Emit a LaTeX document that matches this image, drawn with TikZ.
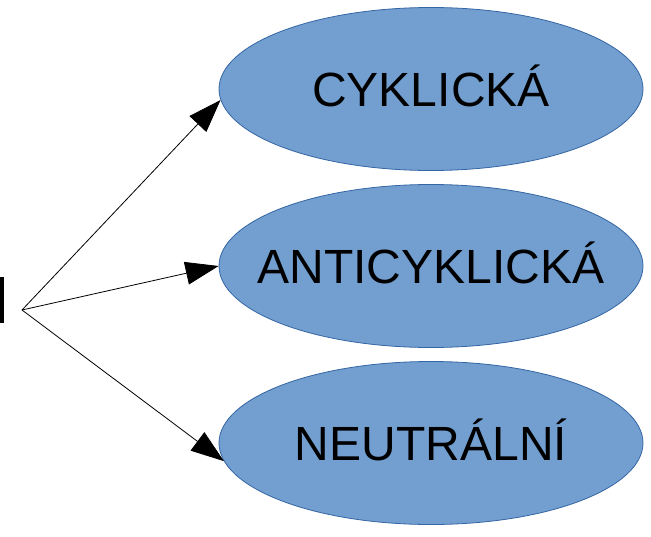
\documentclass[tikz,border=0pt]{standalone}
\usepackage{fontspec}
\setsansfont{Liberation Sans}
\usepackage{xcolor}
\definecolor{ovalFill}{HTML}{729FCF}
\definecolor{ovalBorder}{HTML}{3465A4}
\usetikzlibrary{shapes.geometric,arrows.meta}
\newcommand{\ovaltext}[1]{\makebox[0pt]{\smash{\raisebox{-.358em}{#1}}}}
\tikzset{
    oval/.style={
        ellipse,
        draw=ovalBorder,
        fill=ovalFill,
        line width=0.8pt,
        minimum width=424pt,
        minimum height=163pt,
        inner sep=0pt,
        font=\sffamily\fontsize{48}{57}\selectfont
    },
    stem/.style={
        rectangle,
        fill=black,
        inner sep=0pt,
        minimum width=4pt,
        minimum height=46pt
    },
    arrow/.style={
        -{Triangle[length=33pt,width=23pt]},
        line width=0.8pt,
        color=black
    }
}
\begin{document}
\begin{tikzpicture}[x=1pt,y=-1pt]
    \useasboundingbox (0,0) rectangle (651,536);
    \node[stem] (bar) at (2,300) {};
    \coordinate (src) at (22,310);
    \node[oval] (cyc) at (431,89) {\ovaltext{CYKLICKÁ}};
    \node[oval] (anti) at (431,266) {\ovaltext{ANTICYKLICKÁ}};
    \node[oval] (neu) at (431,443) {\ovaltext{NEUTRÁLNÍ}};

    \draw[arrow] (src) -- (cyc.183);
    \draw[arrow] (src) -- (anti.west);
    \draw[arrow] (src) -- (neu.185);
\end{tikzpicture}
\end{document}
